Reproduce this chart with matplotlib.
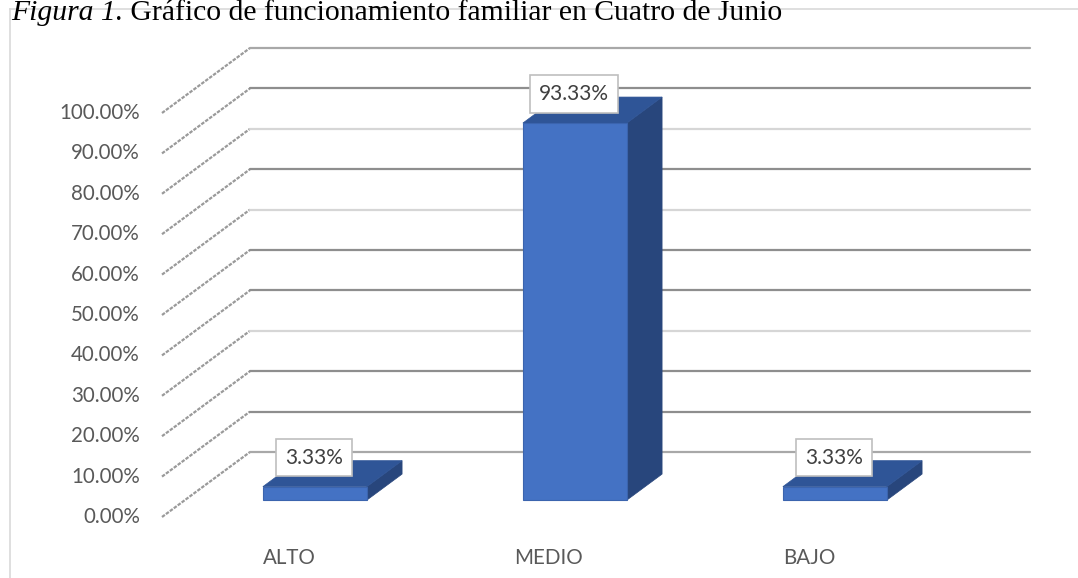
import matplotlib
matplotlib.use("Agg")
import matplotlib.pyplot as plt
from matplotlib.patches import Polygon
from matplotlib.lines import Line2D

# data
categories = ["ALTO", "MEDIO", "BAJO"]
values = [0.0333, 0.9333, 0.0333]
value_labels = ["3.33%", "93.33%", "3.33%"]
tick_values = [i / 10 for i in range(11)]
tick_labels = [f"{v * 100:.2f}%" for v in tick_values]

title_italic = "Figura 1."
title_rest = " Gráfico de funcionamiento familiar en Cuatro de Junio"

# oblique "3d" projection in data units: depth 1 = back wall
DX = 88 / 260
DY = 65 / 404
D0, D1 = 0.26, 0.66     # bar front / back depth
HALF = 0.2              # half bar width

FRONT = "#4472C4"
TOP = "#2F5597"
SIDE = "#28467C"
TXT = "#595959"
grid_colors = ["#A8A8A8", "#8E8E8E", "#8E8E8E", "#D6D6D6", "#8E8E8E", "#8E8E8E",
               "#D6D6D6", "#8E8E8E", "#D6D6D6", "#8E8E8E", "#A8A8A8"]


def proj(x, y, d):
    return x + DX * d, y + DY * d


W, H = 1078, 578
fig = plt.figure(figsize=(W / 100, H / 100), dpi=100)
plt.rcParams["font.family"] = ["Lato", "DejaVu Sans"]

# outer chart border (light grey)
fig.add_artist(Line2D([10 / W, 1], [1 - 9 / H, 1 - 9 / H], transform=fig.transFigure,
                      color="#D9D9D9", lw=1.2))
fig.add_artist(Line2D([10 / W, 10 / W], [0, 1 - 9 / H], transform=fig.transFigure,
                      color="#D9D9D9", lw=1.2))

ax = fig.add_axes([162 / W, (H - 517) / H, 780 / W, 404 / H])
ax.set_xlim(-0.5, len(categories) - 0.5)
ax.set_ylim(0, 1)
ax.axis("off")

x_left = -0.5
x_right = len(categories) - 0.5
for v, c in zip(tick_values, grid_colors):
    p0 = proj(x_left, v, 0)
    p1 = proj(x_left, v, 1)
    p2 = proj(x_right, v, 1)
    ax.plot([p0[0], p1[0]], [p0[1], p1[1]], color="#9A9A9A", lw=1.6,
            dashes=(1.6, 0.6), clip_on=False, solid_capstyle="butt")
    ax.plot([p1[0], p2[0]], [p1[1], p2[1]], color=c, lw=1.6, clip_on=False,
            solid_capstyle="round")

for lab, v in zip(tick_labels, tick_values):
    ax.annotate(lab, xy=(x_left, v), xytext=(-22, 0), textcoords="offset pixels",
                ha="right", va="center", fontsize=14.8, color=TXT, annotation_clip=False)

for i, (cat, v, vl) in enumerate(zip(categories, values, value_labels)):
    xa, xb = i - HALF, i + HALF
    front = [proj(xa, 0, D0), proj(xb, 0, D0), proj(xb, v, D0), proj(xa, v, D0)]
    top = [proj(xa, v, D0), proj(xb, v, D0), proj(xb, v, D1), proj(xa, v, D1)]
    side = [proj(xb, 0, D0), proj(xb, 0, D1), proj(xb, v, D1), proj(xb, v, D0)]
    ax.add_patch(Polygon(side, closed=True, fc=SIDE, ec=SIDE, lw=0.5, clip_on=False, zorder=3))
    ax.add_patch(Polygon(top, closed=True, fc=TOP, ec=TOP, lw=0.5, clip_on=False, zorder=3))
    ax.add_patch(Polygon(front, closed=True, fc=FRONT, ec="#3B64AE", lw=0.8, clip_on=False, zorder=4))

    ax.annotate(vl, xy=proj(i, v, D0), xytext=(-1, 29), textcoords="offset pixels",
                ha="center", va="center", fontsize=15, color="#404040", zorder=6,
                annotation_clip=False,
                bbox=dict(boxstyle="square,pad=0.42", fc="white", ec="#BFBFBF", lw=1.2))

    ax.annotate(cat, xy=(i, 0), xytext=(-3, -41), textcoords="offset pixels",
                ha="center", va="center", fontsize=14.8, color=TXT, annotation_clip=False)

# caption: italic part + normal part
t1 = fig.text(11 / W, 1 - 20 / H, title_italic, fontsize=21.3, style="italic",
              family="Liberation Serif", color="black", va="baseline")
fig.canvas.draw()
bb = t1.get_window_extent()
fig.text(bb.x1 / W, 1 - 20 / H, title_rest, fontsize=21.3,
         family="Liberation Serif", color="black", va="baseline")

fig.savefig("out.png", dpi=100)
